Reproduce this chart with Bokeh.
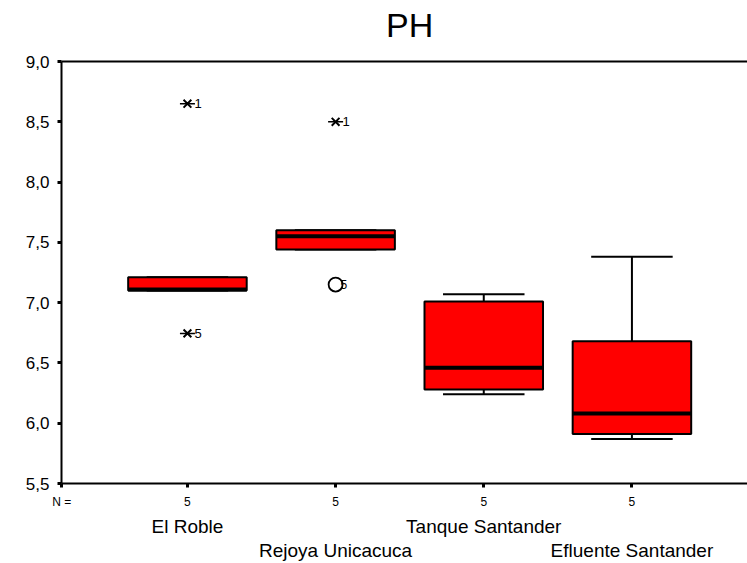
import numpy as np
from bokeh.plotting import figure
from bokeh.models import Range1d, LinearAxis, FixedTicker
from bokeh.core.properties import value
from bokeh.embed import file_html
from bokeh.resources import INLINE

# ---- data ----
title_text = "PH"
categories = ["El Roble", "Rejoya Unicacuca", "Tanque Santander", "Efluente Santander"]
positions = [1, 2, 3, 4]
n_counts = [5, 5, 5, 5]
q1 = [7.10, 7.44, 6.28, 5.91]
median = [7.11, 7.55, 6.46, 6.08]
q3 = [7.21, 7.60, 7.01, 6.68]
whisker_low = [7.10, 7.44, 6.24, 5.87]
whisker_high = [7.21, 7.60, 7.07, 7.38]

extreme_x = [1, 1, 2]
extreme_y = [8.65, 6.745, 8.50]
extreme_lab = ["1", "5", "1"]

outlier_x = [2]
outlier_y = [7.15]
outlier_lab = ["5"]

y_ticks = [5.5, 6.0, 6.5, 7.0, 7.5, 8.0, 8.5, 9.0]
y_tick_labels = ["5,5", "6,0", "6,5", "7,0", "7,5", "8,0", "8,5", "9,0"]
n_label = "N ="

FONT = "Liberation Sans"
RED = "#FF0000"
BOX_W = 0.8
CAP_W = 0.55
X_START, X_END = 0.15, 4.78
X_FULL_END = 4.85  # the original frame continues slightly past the visible edge

p = figure(width=747, height=563, output_backend="svg", toolbar_location=None,
           x_range=Range1d(X_START, X_END), y_range=Range1d(5.5, 9.0),
           x_axis_location=None, y_axis_location=None,
           min_border_left=61, min_border_right=0, min_border_top=61,
           min_border_bottom=80)
p.outline_line_color = None
p.xgrid.visible = False
p.ygrid.visible = False
p.background_fill_color = "white"
p.border_fill_color = "white"

# left axis
ya = LinearAxis(ticker=FixedTicker(ticks=y_ticks),
                major_label_overrides={t: l for t, l in zip(y_ticks, y_tick_labels)})
ya.axis_line_width = 2
ya.major_tick_line_width = 3
ya.major_tick_out = 4
ya.major_tick_in = 0
ya.minor_tick_line_color = None
ya.major_label_standoff = 8
ya.major_label_text_font = FONT
ya.major_label_text_font_size = "17px"
ya.major_label_text_color = "black"
p.add_layout(ya, "left")

# top line carrying the title, centred over the full frame
title_pos = (X_START + X_FULL_END) / 2
ta = LinearAxis(ticker=FixedTicker(ticks=[title_pos]),
                major_label_overrides={title_pos: title_text})
ta.axis_line_width = 2
ta.major_tick_line_color = None
ta.major_tick_out = 0
ta.major_tick_in = 0
ta.minor_tick_line_color = None
ta.major_label_standoff = 18
ta.major_label_text_font = FONT
ta.major_label_text_font_size = "34px"
ta.major_label_text_color = "black"
p.add_layout(ta, "above")

# bottom axis with counts ("N =" sits at the start of the axis)
n_tick = X_START + 0.001
count_ticks = [n_tick] + positions
count_labels = [n_label] + [str(n) for n in n_counts]
xa = LinearAxis(ticker=FixedTicker(ticks=count_ticks),
                major_label_overrides={t: l for t, l in zip(count_ticks, count_labels)})
xa.axis_line_width = 2
xa.major_tick_line_width = 3
xa.major_tick_out = 4
xa.major_tick_in = 0
xa.minor_tick_line_color = None
xa.major_label_standoff = 7
xa.major_label_text_font = FONT
xa.major_label_text_font_size = "12px"
xa.major_label_text_color = "black"
p.add_layout(xa, "below")

# category label rows
for idx, standoff in ((0, 4), (1, 0)):
    ticks = positions[idx::2]
    labs = categories[idx::2]
    ax = LinearAxis(ticker=FixedTicker(ticks=ticks),
                    major_label_overrides={t: l for t, l in zip(ticks, labs)})
    ax.axis_line_color = None
    ax.major_tick_line_color = None
    ax.minor_tick_line_color = None
    ax.major_tick_out = 0
    ax.major_tick_in = 0
    ax.major_label_standoff = standoff
    ax.major_label_text_font = FONT
    ax.major_label_text_font_size = "19px"
    ax.major_label_text_color = "black"
    p.add_layout(ax, "below")

pos = np.array(positions, dtype=float)
# whiskers
p.segment(x0=pos, x1=pos, y0=q3, y1=whisker_high, line_color="black", line_width=2)
p.segment(x0=pos, x1=pos, y0=q1, y1=whisker_low, line_color="black", line_width=2)
p.segment(x0=pos - CAP_W / 2, x1=pos + CAP_W / 2, y0=whisker_high, y1=whisker_high,
          line_color="black", line_width=2)
p.segment(x0=pos - CAP_W / 2, x1=pos + CAP_W / 2, y0=whisker_low, y1=whisker_low,
          line_color="black", line_width=2)
# boxes
p.vbar(x=pos, bottom=q1, top=q3, width=BOX_W, fill_color=RED, line_color="black",
       line_width=2)
# medians
p.segment(x0=pos - BOX_W / 2, x1=pos + BOX_W / 2, y0=median, y1=median,
          line_color="black", line_width=4)

# extremes (stars)
p.scatter(extreme_x, extreme_y, marker="x", size=11, line_color="black", line_width=2)
p.scatter(extreme_x, extreme_y, marker="dash", size=15, line_color="black", line_width=1.5)
p.text(extreme_x, extreme_y, text=extreme_lab, x_offset=7, text_baseline="middle",
       text_align="left", text_font=value(FONT), text_font_size="13px", text_color="black")

# outliers (circles)
p.scatter(outlier_x, outlier_y, marker="circle", size=14, fill_color="white",
          line_color="black", line_width=1.8)
p.text(outlier_x, outlier_y, text=outlier_lab, x_offset=5, text_baseline="middle",
       text_align="left", text_font=value(FONT), text_font_size="12px", text_color="black")

open("out.html", "w").write(file_html(p, INLINE))
